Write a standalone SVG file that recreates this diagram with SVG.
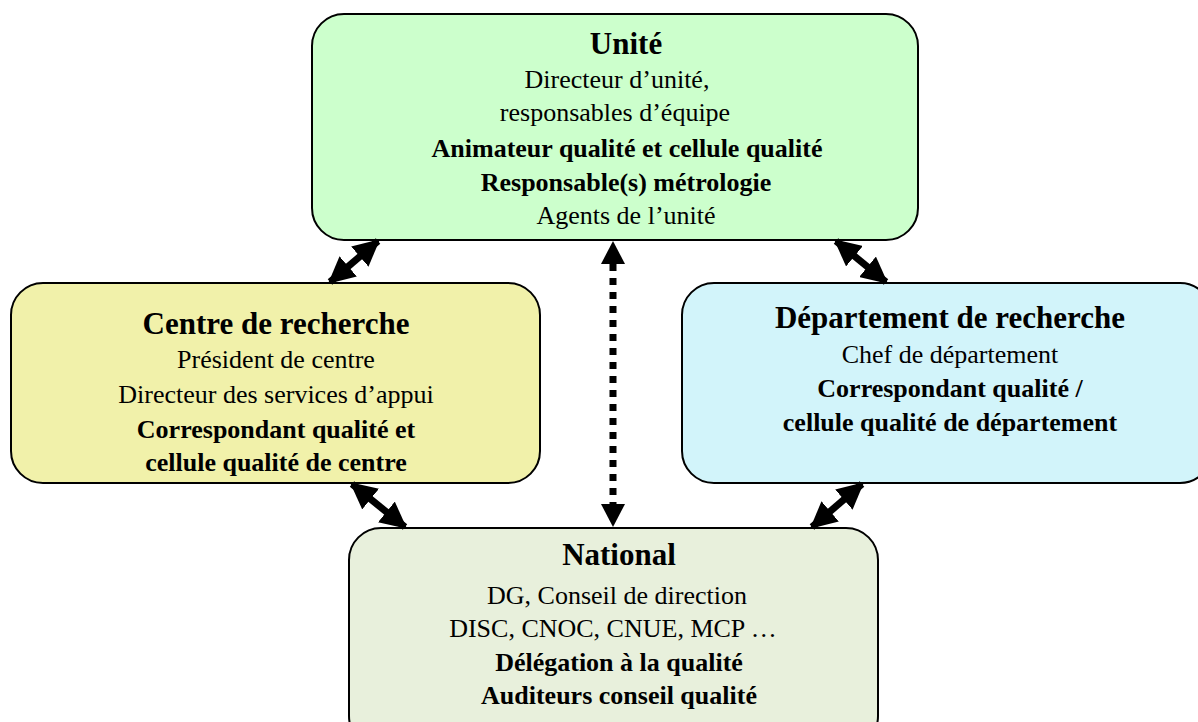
<svg xmlns="http://www.w3.org/2000/svg" width="1198" height="722" viewBox="0 0 1198 722">
<defs>
<marker id="ah" viewBox="0 0 10 10" refX="9" refY="5" markerWidth="3.8" markerHeight="3.8" orient="auto-start-reverse" markerUnits="strokeWidth">
<path d="M0,0 L10,5 L0,10 z" fill="#000"/>
</marker>
<style>
.box{stroke:#000;stroke-width:2}
.t{font-family:"Liberation Serif","DejaVu Serif",serif;text-anchor:middle;fill:#000}
.h{font-size:31px;font-weight:bold}
.n{font-size:26px}
.b{font-size:26px;font-weight:bold}
.c{stroke:#000;stroke-width:7;fill:none}
</style>
</defs>
<rect width="1198" height="722" fill="#fff"/>
<g id="unite">
<rect class="box" x="312" y="14" width="606" height="226" rx="32" fill="#ccffcc"/>
<text class="t h" x="626" y="54">Unité</text>
<text class="t n" x="617" y="88">Directeur d’unité,</text>
<text class="t n" x="615" y="121">responsables d’équipe</text>
<text class="t b" x="627" y="157">Animateur qualité et cellule qualité</text>
<text class="t b" x="626" y="191">Responsable(s) métrologie</text>
<text class="t n" x="626" y="224">Agents de l’unité</text>
</g>
<g id="centre">
<rect class="box" x="11" y="283" width="529" height="200" rx="32" fill="#f1f1aa"/>
<text class="t h" x="276" y="334">Centre de recherche</text>
<text class="t n" x="276" y="368">Président de centre</text>
<text class="t n" x="276" y="403">Directeur des services d’appui</text>
<text class="t b" x="276" y="438">Correspondant qualité et</text>
<text class="t b" x="276" y="471">cellule qualité de centre</text>
</g>
<g id="departement">
<rect class="box" x="682" y="283" width="530" height="200" rx="32" fill="#d2f4fa"/>
<text class="t h" x="950" y="328">Département de recherche</text>
<text class="t n" x="950" y="363">Chef de département</text>
<text class="t b" x="950" y="397">Correspondant qualité /</text>
<text class="t b" x="950" y="431">cellule qualité de département</text>
</g>
<g id="national">
<rect class="box" x="349" y="528" width="529" height="220" rx="32" fill="#e8f0dc"/>
<text class="t h" x="619" y="565">National</text>
<text class="t n" x="617" y="604">DG, Conseil de direction</text>
<text class="t n" x="613" y="637">DISC, CNOC, CNUE, MCP …</text>
<text class="t b" x="619" y="671">Délégation à la qualité</text>
<text class="t b" x="619" y="704">Auditeurs conseil qualité</text>
</g>
<g id="connectors">
<line class="c" x1="378" y1="241" x2="330" y2="282" marker-start="url(#ah)" marker-end="url(#ah)"/>
<line class="c" x1="836" y1="241" x2="886" y2="282" marker-start="url(#ah)" marker-end="url(#ah)"/>
<line class="c" x1="352" y1="484" x2="405" y2="527" marker-start="url(#ah)" marker-end="url(#ah)"/>
<line class="c" x1="862" y1="484" x2="812" y2="527" marker-start="url(#ah)" marker-end="url(#ah)"/>
<line class="c" x1="613" y1="264" x2="613" y2="504" stroke-dasharray="7 7"/>
<path d="M613,241 L601,264 L625,264 z" fill="#000"/>
<path d="M613,527 L601,504 L625,504 z" fill="#000"/>
</g>
</svg>
